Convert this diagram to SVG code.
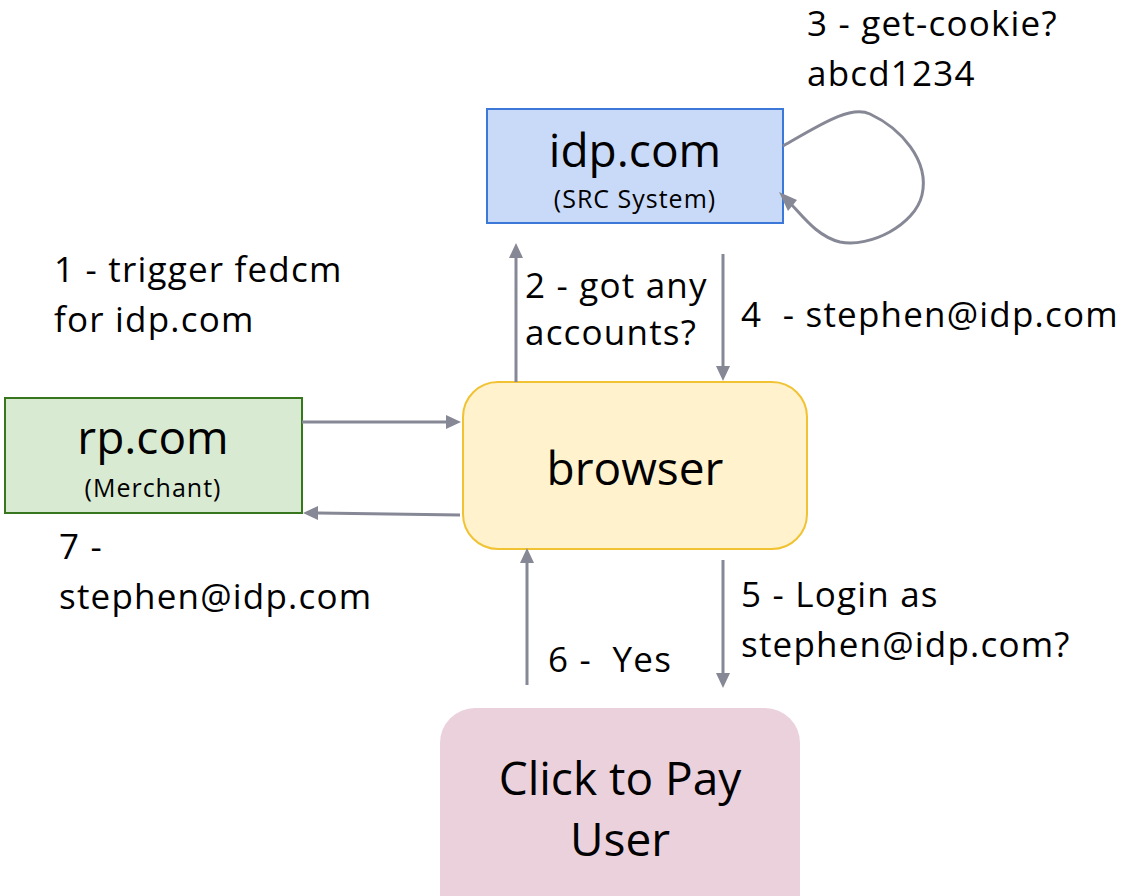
<svg xmlns="http://www.w3.org/2000/svg" width="1127" height="896" viewBox="0 0 1127 896">
<defs>
<style>
text{font-family:"Open Sans","Noto Sans","Liberation Sans",sans-serif;fill:#000}
.big{font-size:46px;text-anchor:middle}
.sub{font-size:25px;letter-spacing:1px;text-anchor:middle}
.lbl{font-size:35px;letter-spacing:1.2px}
.conn{stroke:#868896;stroke-width:3;fill:none}
.head{fill:#868896}
</style>
</defs>
<rect width="1127" height="896" fill="#fff"/>
<g id="idp">
<rect x="487" y="109" width="296" height="114" fill="#c9daf8" stroke="#3c78d8" stroke-width="2"/>
<text class="big" x="635" y="167">idp.com</text>
<text class="sub" x="635" y="208">(SRC System)</text>
</g>
<g id="rp">
<rect x="5" y="398" width="297" height="115" fill="#d9ead3" stroke="#38761d" stroke-width="2"/>
<text class="big" x="153" y="454">rp.com</text>
<text class="sub" x="153" y="497">(Merchant)</text>
</g>
<g id="browser">
<rect x="463" y="382" width="344" height="167" rx="35" ry="35" fill="#fff2cc" stroke="#f1c232" stroke-width="2"/>
<text class="big" x="635" y="485">browser</text>
</g>
<g id="user">
<rect x="440" y="708" width="360" height="230" rx="35" ry="35" fill="#ead1dc"/>
<text class="big" x="620" y="795">Click to Pay</text>
<text class="big" x="620" y="856">User</text>
</g>
<g id="connectors">
<path class="conn" d="M783,146 C820,125 850,105 870,114 C900,128 930,160 922,195 C915,225 870,248 840,242 C815,236 800,212 786,199"/>
<path class="head" d="M779,192 L797,200 L788,211 z"/>
<line class="conn" x1="302" y1="422" x2="447" y2="422"/>
<path class="head" d="M461,422 L446,415 L446,429 z"/>
<line class="conn" x1="460" y1="515" x2="318" y2="513"/>
<path class="head" d="M303,513 L318,506 L318,520 z"/>
<line class="conn" x1="516" y1="382" x2="516" y2="258"/>
<path class="head" d="M516,243 L509,258 L523,258 z"/>
<line class="conn" x1="723" y1="254" x2="723" y2="366"/>
<path class="head" d="M723,381 L716,366 L730,366 z"/>
<line class="conn" x1="527" y1="685" x2="527" y2="563"/>
<path class="head" d="M527,548 L520,563 L534,563 z"/>
<line class="conn" x1="723" y1="560" x2="723" y2="673"/>
<path class="head" d="M723,688 L716,673 L730,673 z"/>
</g>
<g id="labels">
<text class="lbl" x="807" y="36">3 - get-cookie?</text>
<text class="lbl" x="807" y="86">abcd1234</text>
<text class="lbl" x="54" y="282">1 - trigger fedcm</text>
<text class="lbl" x="54" y="332">for idp.com</text>
<text class="lbl" x="525" y="298">2 - got any</text>
<text class="lbl" x="525" y="345">accounts?</text>
<text class="lbl" x="741" y="327" xml:space="preserve">4  - stephen@idp.com</text>
<text class="lbl" x="59" y="559">7 -</text>
<text class="lbl" x="59" y="609">stephen@idp.com</text>
<text class="lbl" x="741" y="607">5 - Login as</text>
<text class="lbl" x="741" y="657">stephen@idp.com?</text>
<text class="lbl" x="548" y="672" xml:space="preserve">6 -  Yes</text>
</g>
</svg>
